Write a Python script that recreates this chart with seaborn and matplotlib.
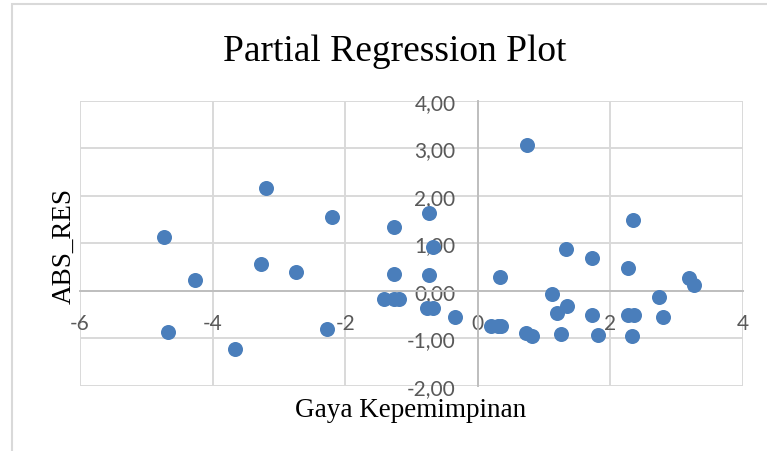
import numpy as np
import pandas as pd
import matplotlib
matplotlib.use("Agg")
import matplotlib.pyplot as plt
import seaborn as sns
from matplotlib.patches import Rectangle

# ── Data ──
gaya_kepemimpinan = [-4.74, -4.67, -4.27, -3.66, -3.20, -3.27, -2.74, -2.20, -2.27,
                     -1.27, -1.27, -1.41, -1.26, -1.19, -0.74, -0.67, -0.74, -0.76,
                     -0.67, -0.34, 0.33, 0.20, 0.30, 0.35, 0.74, 0.72, 0.81, 1.12,
                     1.19, 1.34, 1.33, 1.26, 1.73, 1.73, 1.81, 2.27, 2.34, 2.27,
                     2.35, 2.33, 2.73, 2.80, 3.19, 3.26]
abs_res = [1.14, -0.86, 0.22, -1.22, 2.17, 0.57, 0.39, 1.55, -0.81,
           1.35, 0.36, -0.18, -0.18, -0.18, 1.63, 0.92, 0.34, -0.37,
           -0.37, -0.55, 0.29, -0.75, -0.75, -0.75, 3.07, -0.88, -0.95, -0.06,
           -0.47, -0.33, 0.87, -0.91, 0.69, -0.51, -0.94, 0.48, 1.49, -0.52,
           -0.51, -0.95, -0.13, -0.55, 0.27, 0.11]

x_ticks = [-6, -4, -2, 0, 2, 4]
x_tick_labels = ["-6", "-4", "-2", "0", "2", "4"]
y_ticks = [-2, -1, 0, 1, 2, 3, 4]
y_tick_labels = ["-2,00", "-1,00", "0,00", "1,00", "2,00", "3,00", "4,00"]

POINT_COLOR = "#4a7ebb"
GRID_COLOR = "#d9d9d9"
AXIS_COLOR = "#bfbfbf"
SERIF = "Liberation Serif"

df = pd.DataFrame({"Gaya Kepemimpinan": gaya_kepemimpinan, "ABS_RES": abs_res})

sns.set_style("white")
plt.rcParams["font.family"] = ["Lato", "DejaVu Sans"]

fig = plt.figure(figsize=(7.67, 4.52), dpi=100)
ax = fig.add_axes([80 / 767, 1 - 386.7 / 452, 663 / 767, 285 / 452])

sns.scatterplot(data=df, x="Gaya Kepemimpinan", y="ABS_RES", ax=ax,
                color=POINT_COLOR, s=117, linewidth=0, zorder=3)

ax.set_xlim(-6, 4)
ax.set_ylim(-2, 4)
ax.set_xticks(x_ticks, labels=x_tick_labels)
ax.set_yticks(y_ticks, labels=y_tick_labels)
ax.tick_params(length=0, pad=16, labelsize=15, labelcolor="#595959")

ax.grid(True, color=GRID_COLOR, linewidth=1.4)
for gl in ax.get_xgridlines() + ax.get_ygridlines():
    gl.set_clip_on(False)

for side in ["top", "right"]:
    ax.spines[side].set_visible(False)
for side in ["left", "bottom"]:
    ax.spines[side].set_position(("data", 0))
    ax.spines[side].set_color(AXIS_COLOR)
    ax.spines[side].set_linewidth(1.4)
    ax.spines[side].set_zorder(2)

ax.set_xlabel("Gaya Kepemimpinan", family=SERIF, fontsize=19.5, color="black")
ax.xaxis.set_label_coords(0.4985, -0.04)
ax.xaxis.label.set_va("top")
ax.set_ylabel("ABS_RES", family=SERIF, fontsize=19.5, color="black")
ax.yaxis.set_label_coords(-0.024, 0.494)
ax.yaxis.label.set_va("center")

fig.text(395 / 767, 1 - 61 / 452, "Partial Regression Plot", family=SERIF,
         fontsize=27, ha="center", va="baseline", color="black")

# chart frame
fig.add_artist(Rectangle((12 / 767, -0.05), 1.2, 1 - 5 / 452 + 0.05,
                         transform=fig.transFigure, fill=False,
                         edgecolor=GRID_COLOR, linewidth=1.5))

fig.savefig("out.png", dpi=100)
